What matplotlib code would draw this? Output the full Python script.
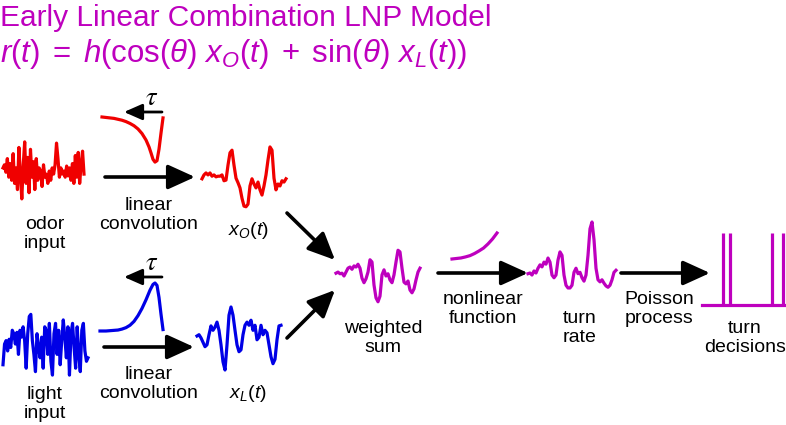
import matplotlib
matplotlib.use('Agg')
import matplotlib.pyplot as plt
import numpy as np

W, H = 786, 425
MAGENTA = '#BE00BE'
RED = '#F00000'
BLUE = '#0000E6'

# traces, amplitude 0..100 (100 = top of its box)
ODOR_INPUT = [55, 60, 48, 70, 40, 62, 35, 78, 30, 55, 20, 88, 45, 5, 60, 97, 30, 72, 15, 85,
              40, 65, 20, 70, 35, 55, 50, 25, 60, 40, 45, 30, 50, 35, 55, 45, 60, 95, 70, 40,
              55, 45, 50, 40, 58, 42, 55, 35, 62, 30, 75, 40, 80, 30, 60, 82, 45]
X_ODOR = [48, 54, 57, 54, 57, 52, 54, 51, 52, 52, 54, 45, 46, 69, 88, 92, 69, 49, 42, 34,
          18, 6, 5, 9, 37, 48, 40, 34, 43, 31, 23, 37, 54, 77, 97, 92, 49, 31, 40, 37,
          45, 43, 48]
LIGHT_INPUT = [25, 55, 60, 45, 62, 50, 75, 70, 55, 72, 40, 75, 65, 80, 60, 20, 70, 95, 98, 60,
               40, 15, 70, 50, 35, 65, 20, 80, 75, 40, 85, 30, 10, 70, 85, 40, 75, 25, 60, 90,
               65, 35, 80, 10, 70, 85, 50, 20, 80, 40, 15, 75, 85, 45, 30, 35]
X_LIGHT = [54, 56, 51, 44, 37, 40, 56, 70, 63, 68, 76, 63, 40, 13, 0, 40, 87, 100, 87, 63,
           40, 29, 32, 56, 71, 76, 71, 79, 63, 71, 48, 52, 71, 56, 63, 59, 40, 21, 10, 17,
           48, 70, 71]
WEIGHTED_SUM = [55, 57, 54, 55, 50, 57, 64, 66, 62, 68, 66, 71, 64, 46, 38, 45, 57, 79, 75, 34,
                11, 4, 14, 52, 61, 50, 54, 43, 38, 52, 75, 96, 93, 64, 39, 36, 41, 25, 20, 27,
                43, 57, 64]
TURN_RATE = [24, 25, 22, 28, 25, 32, 37, 34, 41, 38, 47, 41, 22, 18, 22, 44, 56, 51, 22, 7,
             3, 3, 7, 26, 32, 24, 26, 18, 13, 22, 51, 90, 100, 74, 32, 15, 12, 15, 10, 6,
             4, 7, 15, 26, 29]

# kernels: lag (relative) and amplitude
ODOR_KERNEL_T = [0, 4, 8, 12, 16, 20, 24, 28, 32, 36, 40, 44, 47, 49, 51, 53, 55, 57, 59, 61]
ODOR_KERNEL = [100, 99, 98, 97, 95, 93, 90, 86, 81, 74, 64, 50, 35, 22, 8, 2, 5, 30, 65, 98]
LIGHT_KERNEL_T = [0, 6, 12, 18, 22, 26, 30, 34, 38, 42, 46, 50, 53, 55, 57, 59, 61, 63]
LIGHT_KERNEL = [0, 0, 1, 2, 4, 7, 12, 20, 32, 47, 65, 85, 97, 100, 95, 70, 35, 3]
NONLINEAR = [0, 2, 4, 8, 13, 21, 31, 42, 58, 77, 100]

# turn decisions: spike times within the window
SPIKE_TIMES = [21, 28, 70, 81]
SPIKE_WINDOW = 84


def panel(fig, x, y, w, h):
    a = fig.add_axes([x / W, 1 - (y + h) / H, w / W, h / H])
    a.axis('off')
    return a


def trace(fig, box, values, color, t=None, lw=2.3):
    a = panel(fig, *box)
    if t is None:
        t = np.arange(len(values))
    a.plot(t, values, color=color, lw=lw, clip_on=False, solid_joinstyle='round')
    a.set_xlim(t[0], t[-1])
    a.set_ylim(0, 100)
    return a


def arrow(ax, start, tip, small=False):
    if small:
        style = '-|>,head_length=0.5,head_width=0.22'
        ms, lw = 22, 2.0
    else:
        style = '-|>,head_length=0.55,head_width=0.25'
        ms, lw = 30, 2.6
    ax.annotate('', xy=tip, xytext=start,
                arrowprops=dict(arrowstyle=style, mutation_scale=ms, lw=lw,
                                color='black', shrinkA=0, shrinkB=0))


def main():
    plt.rcParams['font.family'] = 'Liberation Sans'
    plt.rcParams['mathtext.fontset'] = 'custom'
    plt.rcParams['mathtext.rm'] = 'Liberation Sans'
    plt.rcParams['mathtext.it'] = 'Liberation Sans:italic'

    fig = plt.figure(figsize=(W / 100, H / 100), dpi=100)
    ax = fig.add_axes([0, 0, 1, 1])
    ax.set_xlim(0, W)
    ax.set_ylim(H, 0)
    ax.axis('off')

    # Title
    ax.text(0, 26, 'Early Linear Combination LNP Model', color=MAGENTA,
            fontsize=21.5, va='baseline', ha='left')
    ax.text(0, 62, r'$r(t)\;=\;h(\mathrm{cos}(\theta)\ x_O(t)\;+\;\mathrm{sin}(\theta)\ x_L(t))$',
            color=MAGENTA, fontsize=22.5, va='baseline', ha='left')

    # Traces
    trace(fig, (3, 140, 81, 62), ODOR_INPUT, RED)
    trace(fig, (202, 145, 84, 65), X_ODOR, RED)
    trace(fig, (3, 313, 85, 69), LIGHT_INPUT, BLUE)
    trace(fig, (197, 307, 84, 63), X_LIGHT, BLUE)
    trace(fig, (336, 248, 84, 56), WEIGHTED_SUM, MAGENTA)
    trace(fig, (528, 222, 88, 68), TURN_RATE, MAGENTA)

    trace(fig, (102, 117, 61, 46), ODOR_KERNEL, RED, t=ODOR_KERNEL_T)
    trace(fig, (100, 283, 63, 48), LIGHT_KERNEL, BLUE, t=LIGHT_KERNEL_T)
    trace(fig, (452, 233, 45, 26), NONLINEAR, MAGENTA)

    sp = panel(fig, 702, 233, 84, 72)
    sp.vlines(SPIKE_TIMES, 0, 1, color=MAGENTA, lw=2.3, clip_on=False)
    sp.plot([0, SPIKE_WINDOW], [0, 0], color=MAGENTA, lw=2.3, clip_on=False)
    sp.set_xlim(0, SPIKE_WINDOW)
    sp.set_ylim(0, 1)

    # Arrows
    arrow(ax, (105, 177), (195, 177))
    arrow(ax, (104, 347), (194, 347))
    arrow(ax, (287, 213), (335, 260))
    arrow(ax, (287, 338), (335, 290))
    arrow(ax, (438, 273), (528, 273))
    arrow(ax, (621, 273), (710, 273))
    arrow(ax, (162, 112), (124, 112), small=True)
    arrow(ax, (162, 277), (124, 277), small=True)

    ax.text(152, 98, r'$\tau$', math_fontfamily='stix', fontsize=19, ha='center', va='center')
    ax.text(152, 263, r'$\tau$', math_fontfamily='stix', fontsize=19, ha='center', va='center')

    # Labels
    kw = dict(fontsize=14, ha='center', va='center', linespacing=1.15)
    ax.text(45, 234, 'odor\ninput', **kw)
    ax.text(149, 215, 'linear\nconvolution', **kw)
    ax.text(248, 230, r'$x_O(t)$', **kw)
    ax.text(45, 404, 'light\ninput', **kw)
    ax.text(149, 384, 'linear\nconvolution', **kw)
    ax.text(248, 393, r'$x_L(t)$', **kw)
    ax.text(383, 338, 'weighted\nsum', **kw)
    ax.text(483, 309, 'nonlinear\nfunction', **kw)
    ax.text(580, 328, 'turn\nrate', **kw)
    ax.text(659, 309, 'Poisson\nprocess', **kw)
    ax.text(745, 338, 'turn\ndecisions', **kw)

    fig.savefig('out.png', dpi=100)


if __name__ == '__main__':
    main()
